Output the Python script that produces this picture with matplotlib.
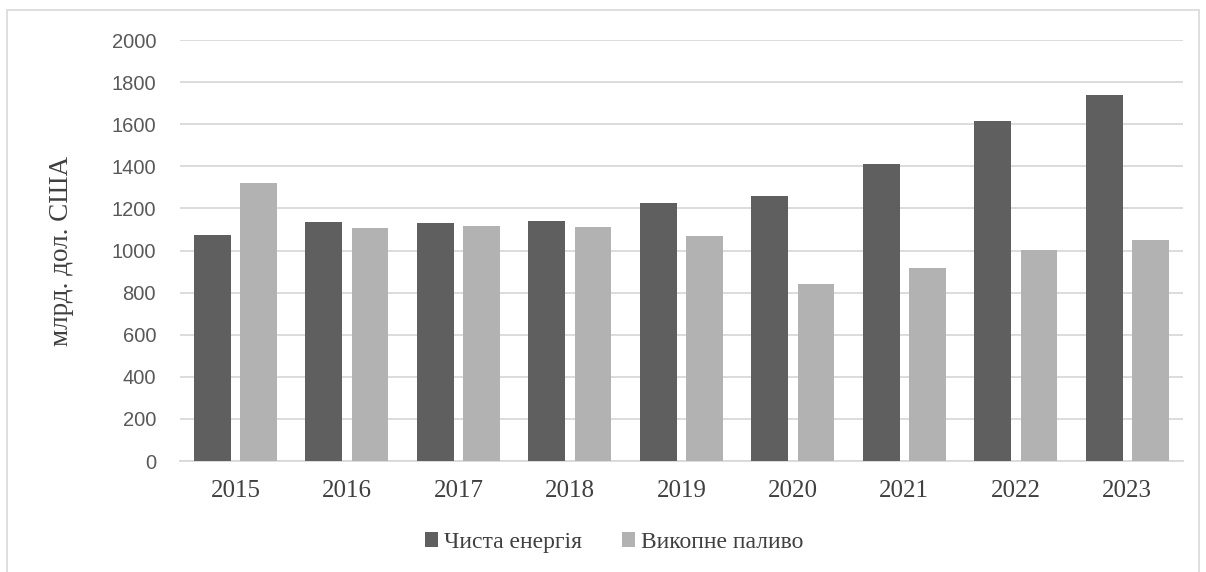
import numpy as np
import matplotlib.pyplot as plt
from matplotlib.patches import Rectangle

years = ['2015', '2016', '2017', '2018', '2019', '2020', '2021', '2022', '2023']
clean_energy = [1075, 1134, 1131, 1139, 1226, 1260, 1409, 1617, 1740]
fossil_fuel = [1319, 1105, 1115, 1110, 1067, 839, 915, 1004, 1050]
series_names = ['Чиста енергія', 'Викопне паливо']

dark = '#5f5f5f'
light = '#b2b2b2'
grid_c = '#d9d9d9'

fig = plt.figure(figsize=(12.06, 5.72), dpi=100)
ax = fig.add_axes([0.149, 0.194, 0.832, 0.736])

# outer chart border
fig.patches.append(Rectangle((7 / 1206, -0.05), 1192 / 1206, 1.05 - 10 / 572,
                             transform=fig.transFigure, fill=False,
                             edgecolor='#d9d9d9', linewidth=1.2))

x = np.arange(len(years))
w = 0.33
off = 0.207
ax.bar(x - off, clean_energy, w, color=dark, label=series_names[0], zorder=3)
ax.bar(x + off, fossil_fuel, w, color=light, label=series_names[1], zorder=3)

ax.set_xlim(-0.5, len(years) - 0.5)
ax.set_ylim(0, 2000)
ax.set_yticks(np.arange(0, 2001, 200))
ax.yaxis.grid(True, color=grid_c, linewidth=1.3, zorder=0)
ax.set_axisbelow(True)
for s in ['top', 'right', 'left']:
    ax.spines[s].set_visible(False)
ax.spines['bottom'].set_color(grid_c)
ax.spines['bottom'].set_linewidth(1.3)
ax.tick_params(length=0)
ax.tick_params(axis='y', pad=17)
ax.tick_params(axis='x', pad=14)

ax.set_xticks(x)
ax.set_xticklabels(years, fontfamily='Liberation Serif', fontsize=18, color='#404040')
for lab in ax.get_yticklabels():
    lab.set_fontfamily('Liberation Sans')
    lab.set_fontsize(14.5)
    lab.set_color('#595959')

ax.set_ylabel('млрд. дол. США', fontfamily='Liberation Serif', fontsize=19.5,
              color='#404040', labelpad=27)

leg = fig.legend(loc='center', bbox_to_anchor=(0.509, 0.052), ncol=2, frameon=False,
                 prop={'family': 'Liberation Serif', 'size': 17},
                 handlelength=0.55, handleheight=0.55, handletextpad=0.25,
                 columnspacing=1.7)
for t in leg.get_texts():
    t.set_color('#404040')

fig.savefig('out.png', dpi=100)
